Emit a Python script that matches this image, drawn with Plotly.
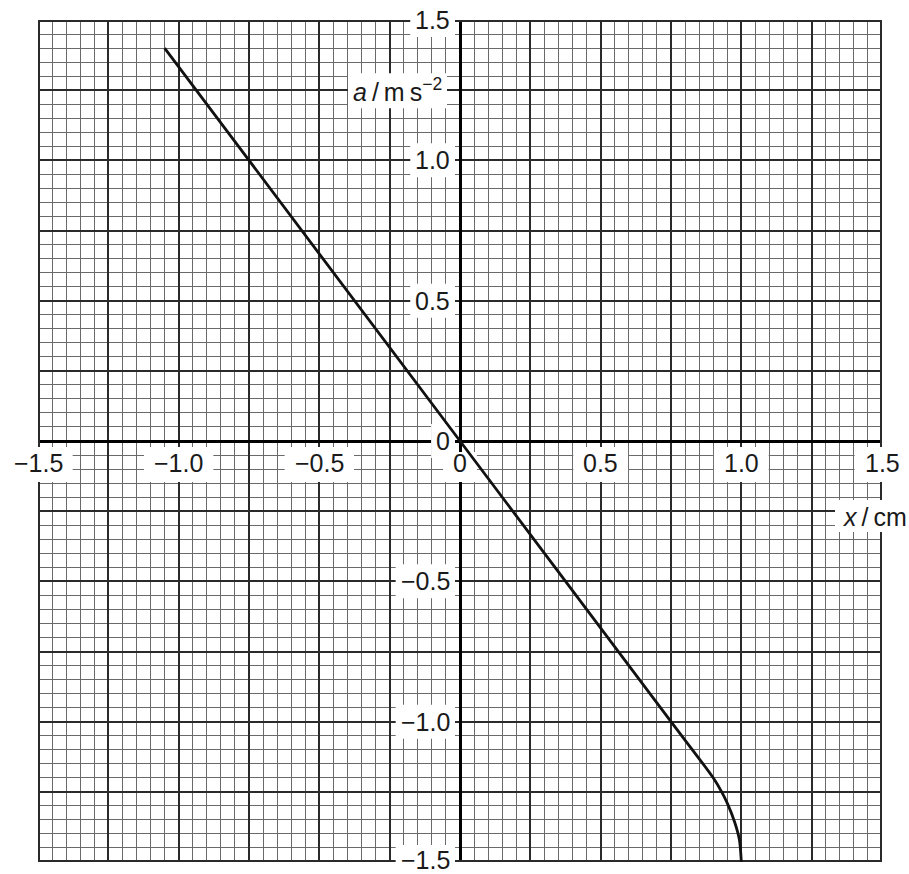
import plotly.graph_objects as go

# Acceleration a (m s^-2) against displacement x (cm)
x_cm = [-1.05, 0.0, 0.75, 0.90, 0.93, 0.95, 0.977, 0.993, 1.0]
a_ms2 = [1.40, 0.0, -1.00, -1.20, -1.25, -1.29, -1.36, -1.42, -1.50]

tick_values = [-1.5, -1.0, -0.5, 0.0, 0.5, 1.0, 1.5]
tick_labels = ["\u22121.5", "\u22121.0", "\u22120.5", "0", "0.5", "1.0", "1.5"]

FONT = "Liberation Sans, Arial, Helvetica, sans-serif"
FSIZE = 25
TXT = "#1a1a1a"

CHAR_W = {"\u2212": 0.584, ".": 0.278}


def text_width(s):
    return FSIZE * sum(CHAR_W.get(c, 0.556) for c in s)


fig = go.Figure()
fig.add_trace(go.Scatter(
    x=x_cm, y=a_ms2, mode="lines",
    line=dict(color="#111111", width=2.8, shape="spline", smoothing=0.8),
    hoverinfo="skip", showlegend=False,
))

axis_common = dict(
    range=[-1.5, 1.5], dtick=0.25, tick0=0,
    showgrid=True, gridcolor="#2a2a2a", gridwidth=1.7,
    minor=dict(dtick=0.05, showgrid=True, gridcolor="#6a6a6a", gridwidth=1),
    zeroline=True, zerolinecolor="#000000", zerolinewidth=3,
    showticklabels=False, ticks="", showline=False, fixedrange=True,
)

shapes = [
    # frame of the graph paper
    dict(type="rect", xref="x", yref="y", x0=-1.5, x1=1.5, y0=-1.5, y1=1.5,
         line=dict(color="#2a2a2a", width=4), fillcolor="rgba(0,0,0,0)",
         layer="between"),
]
annotations = []


def white_box(xa, ya, px0, px1, py0, py1):
    shapes.append(dict(
        type="rect", xref="x", yref="y",
        xsizemode="pixel", ysizemode="pixel",
        xanchor=xa, yanchor=ya, x0=px0, x1=px1, y0=py0, y1=py1,
        fillcolor="white", line=dict(width=0), layer="between",
    ))


# y-axis numbers sit to the left of the vertical axis
for v, lab in zip(tick_values, tick_labels):
    w = text_width(lab)
    white_box(0, v, -(w + 15), -5, -17, 17)
    annotations.append(dict(
        x=0, y=v, xref="x", yref="y", text=lab, showarrow=False,
        xanchor="right", yanchor="middle", xshift=-8,
        yshift=2 if v == -1.5 else 0,
        font=dict(family=FONT, size=FSIZE, color=TXT),
    ))

# x-axis numbers sit just below the horizontal axis
for v, lab in zip(tick_values, tick_labels):
    w = text_width(lab)
    top = -11 if v == 0 else -6
    white_box(v, 0, -(w / 2 + 10), w / 2 + 10, -41, top)
    annotations.append(dict(
        x=v, y=0, xref="x", yref="y", text=lab, showarrow=False,
        xanchor="center", yanchor="middle", yshift=-22,
        font=dict(family=FONT, size=FSIZE, color=TXT),
    ))

# axis titles
white_box(0, 1.25, -112, -13, -18, 17)
annotations.append(dict(
    x=0, y=1.25, xref="x", yref="y",
    text="<i>a</i>\u2009/\u2009m\u2009s<sup>\u22122</sup>", showarrow=False,
    xanchor="right", yanchor="middle", xshift=-16, yshift=0,
    font=dict(family=FONT, size=FSIZE, color=TXT),
))
white_box(1.5, 0, -47, 27, -91, -59)
annotations.append(dict(
    x=1.5, y=0, xref="x", yref="y",
    text="<i>x</i>\u2009/\u2009cm", showarrow=False,
    xanchor="right", yanchor="middle", xshift=27, yshift=-76,
    font=dict(family=FONT, size=FSIZE, color=TXT),
))

fig.update_layout(
    width=909, height=874,
    margin=dict(l=38, r=27, t=20, b=12, pad=0),
    paper_bgcolor="white", plot_bgcolor="white",
    xaxis=axis_common, yaxis=axis_common,
    shapes=shapes, annotations=annotations,
    showlegend=False,
)

fig.write_html("out.html")
